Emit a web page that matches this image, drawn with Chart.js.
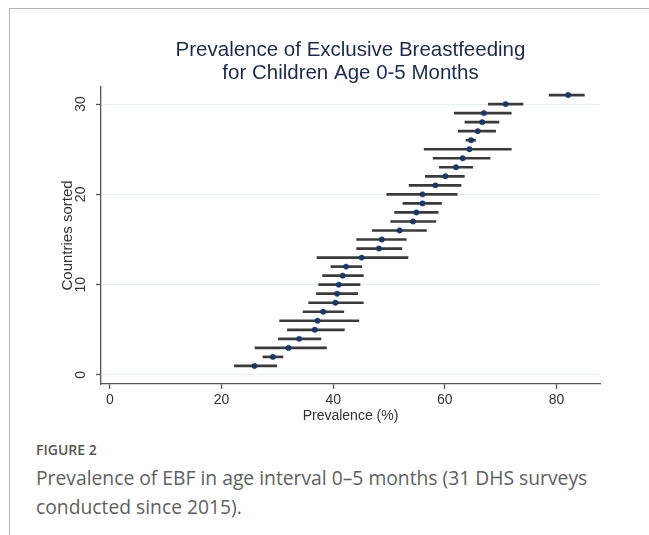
<!DOCTYPE html>
<html>
<head>
<meta charset="utf-8">
<script src="https://cdn.jsdelivr.net/npm/chart.js@4/dist/chart.umd.min.js"></script>
<style>
  body { margin: 0; background: #fff; }
  #wrap { position: relative; width: 649px; height: 535px; overflow: hidden; }
  #frame { position: absolute; left: 9px; top: 8px; right: 0; bottom: 0; border-left: 1px solid #b4b4b4; border-top: 1px solid #b4b4b4; }
  #marksChart { position: absolute; left: 0; top: 0; }
  #figlabel { position: absolute; left: 36px; top: 440px; font-family: "Open Sans", sans-serif; font-size: 14px; font-weight: 600; color: #555; }
  #figcap { position: absolute; left: 36px; top: 463px; font-family: "Open Sans", sans-serif; font-size: 19.3px; line-height: 29px; color: #606060; }
</style>
</head>
<body>
<div id="wrap">
  <div id="frame"></div>
  <canvas id="marksChart" width="649" height="440"></canvas>
  <div id="figlabel">FIGURE 2</div>
  <div id="figcap">Prevalence of EBF in age interval 0–5 months (31 DHS surveys<br>conducted since 2015).</div>
</div>
<script>
/* global Chart */

// countries sorted by prevalence, rank 1..31
var ranks = [1, 2, 3, 4, 5, 6, 7, 8, 9, 10, 11, 12, 13, 14, 15, 16, 17, 18, 19, 20, 21, 22, 23, 24, 25, 26, 27, 28, 29, 30, 31];
var prevalence = [25.9, 29.2, 32.0, 33.9, 36.7, 37.2, 38.2, 40.4, 40.7, 41.0, 41.7, 42.3, 45.1, 48.2, 48.7, 51.9, 54.3, 54.9, 56.0, 56.0, 58.3, 60.1, 62.0, 63.2, 64.4, 64.7, 65.9, 66.7, 67.0, 70.9, 82.1];
var lower = [22.3, 27.4, 26.0, 30.2, 31.8, 30.4, 34.6, 35.6, 37.0, 37.4, 38.1, 39.6, 37.1, 44.2, 44.2, 47.0, 50.3, 51.0, 52.5, 49.6, 53.6, 56.5, 59.0, 57.9, 56.3, 63.8, 62.4, 63.6, 61.7, 67.8, 78.7];
var upper = [29.9, 31.0, 38.8, 37.8, 42.0, 44.6, 41.9, 45.4, 44.4, 44.8, 45.4, 45.1, 53.4, 52.3, 53.1, 56.7, 58.4, 58.8, 59.4, 62.2, 62.9, 63.5, 65.0, 68.1, 71.9, 65.5, 69.1, 69.7, 71.9, 74.0, 85.0];
var xTicks = [0, 20, 40, 60, 80];
var yTicks = [0, 10, 20, 30];

var ciData = [];
var pointData = [];
for (var i = 0; i < ranks.length; i++) {
  ciData.push({ x: [lower[i], upper[i]], y: ranks[i] });
  pointData.push({ x: prevalence[i], y: ranks[i] });
}

var axisFont = { family: "'Liberation Sans', Arial, sans-serif", size: 14 };

var marksCanvas = document.getElementById("marksChart");
var chart = new Chart(marksCanvas, {
  type: "bar",
  data: {
    datasets: [{
      type: "scatter",
      data: pointData,
      pointRadius: 2.7,
      pointBackgroundColor: "#1a3866",
      pointBorderColor: "#1a3866",
      pointBorderWidth: 0.5,
      order: 0
    }, {
      type: "bar",
      data: ciData,
      backgroundColor: "#3a3a3a",
      barThickness: 2,
      order: 1
    }]
  },
  options: {
    indexAxis: "y",
    responsive: false,
    animation: false,
    layout: { padding: { left: 40, right: 49, top: 30, bottom: 14 } },
    plugins: {
      legend: { display: false },
      tooltip: { enabled: false },
      title: {
        display: true,
        fullSize: false,
        text: ["Prevalence of Exclusive Breastfeeding", "for Children Age 0-5 Months"],
        color: "#1c2b4b",
        font: { family: "'Liberation Sans', Arial, sans-serif", size: 20.5, weight: "normal", lineHeight: 1.12 },
        padding: { top: 8.5, bottom: 2.5 }
      }
    },
    scales: {
      x: {
        type: "linear",
        min: -1.6,
        max: 87.8,
        offset: false,
        afterBuildTicks: function(scale) {
          scale.ticks = xTicks.map(function(v) { return { value: v }; });
        },
        afterFit: function(scale) { scale.height = 42; },
        grid: { offset: false, drawOnChartArea: false, drawTicks: true, tickLength: 5, tickColor: "#555", tickWidth: 1.3 },
        border: { color: "#555", width: 1.3 },
        ticks: { color: "#333", font: axisFont, padding: 3, maxRotation: 0 },
        title: { display: true, text: "Prevalence (%)", color: "#333", font: axisFont, padding: { top: 0, bottom: 1 } }
      },
      y: {
        type: "linear",
        min: -1,
        max: 31.9,
        offset: false,
        afterBuildTicks: function(scale) {
          scale.ticks = yTicks.map(function(v) { return { value: v }; });
        },
        afterFit: function(scale) { scale.width = 61; },
        grid: { offset: false, color: "#e9f0f3", lineWidth: 1, drawTicks: true, tickLength: 5, tickColor: "#555", tickWidth: 1.3 },
        border: { color: "#555", width: 1.3 },
        ticks: { color: "#333", font: axisFont, padding: 7, minRotation: 90, maxRotation: 90, crossAlign: "center" },
        title: { display: true, text: "Countries sorted", color: "#333", font: { family: "'Liberation Sans', Arial, sans-serif", size: 15 }, padding: { top: 19, bottom: 0 } }
      }
    }
  }
});
</script>
</body>
</html>
